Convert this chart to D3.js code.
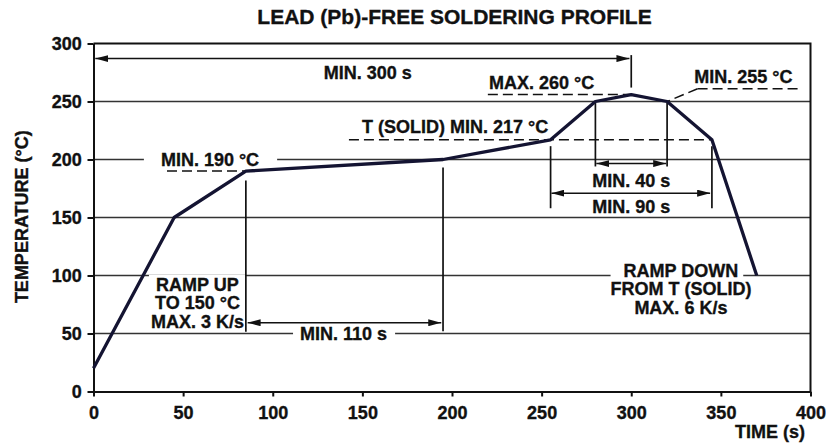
<!DOCTYPE html>
<html>
<head>
<meta charset="utf-8">
<script src="https://cdn.jsdelivr.net/npm/d3@7"></script>
<style>
  body { margin: 0; background: #fff; }
  svg text { font-family: "Liberation Sans", Arial, Helvetica, sans-serif; font-weight: bold; fill: #111; stroke: #111; stroke-width: 0.35px; }
</style>
</head>
<body>
<script>
let width = 826;
let height = 445;
let margin = { top: 43.5, right: 15.5, bottom: 53.5, left: 93.5 };

// soldering profile (time in s, temperature in °C)
const timeS = [0, 45, 85, 195, 255, 280, 300, 320, 345, 370];
const tempC = [20, 150, 190, 200, 217, 250, 256, 250, 217, 100];

const xTicks = [0, 50, 100, 150, 200, 250, 300, 350, 400];
const yTicks = [0, 50, 100, 150, 200, 250, 300];
const gridTemps = [50, 100, 150, 200, 250];

// dashed reference levels: [t start, t end, temperature]
const dashedLines = [
    [41, 85, 190],
    [142.5, 345, 217],
    [220, 300, 256],
    [337, 395, 261]
];
// leader from the MIN. 255 label down to the profile
const leaderLine = [[337, 261], [320, 250]];

// extension lines: [t, temp top, temp bottom]
const extLines = [
    [300, 290, 262],
    [85, 182, 51.5],
    [195, 193, 52],
    [280, 249, 194],
    [320, 249, 194],
    [255, 211.5, 158],
    [345, 211.5, 158]
];

// dimension arrows: [t start, t end, temperature]
const dimArrows = [
    [1, 299, 287],
    [86, 194, 59.3],
    [280.5, 319.5, 196.5],
    [255.5, 344, 171]
];

// labels: lines, centre time, baseline temperature of first line,
// white background (how many lines, left pad, right pad)
const labels = [
    { lines: ["MIN. 300 s"], t: 153, T: 269.4 },
    { lines: ["MAX. 260 °C"], t: 250, T: 260.6 },
    { lines: ["MIN. 255 °C"], t: 362.5, T: 265.6 },
    { lines: ["T (SOLID) MIN. 217 °C"], t: 201.7, T: 222.6 },
    { lines: ["MIN. 190 °C"], t: 65, T: 194.4, bg: [1, 17, 18] },
    { lines: ["MIN. 40 s"], t: 300, T: 176.6 },
    { lines: ["MIN. 90 s"], t: 300, T: 153.6 },
    { lines: ["MIN. 110 s"], t: 139.5, T: 44.4, bg: [1, 7, 8] },
    { lines: ["RAMP UP", "TO 150 °C", "MAX. 3 K/s"], t: 58, T: 86.9, bg: [3, 2, 1] },
    { lines: ["RAMP DOWN", "FROM T (SOLID)", "MAX. 6 K/s"], t: 327.7, T: 99, bg: [1, 13, 5] }
];

const lineStep = 18.5;

const svg = d3.select("body").append("svg")
    .attr("width", width)
    .attr("height", height);

const x = d3.scaleLinear([0, 400], [margin.left, width - margin.right]);
const y = d3.scaleLinear([0, 300], [height - margin.bottom, margin.top]);

svg.append("defs").append("marker")
    .attr("id", "arrow")
    .attr("viewBox", "0 0 13 7")
    .attr("refX", 13)
    .attr("refY", 3.5)
    .attr("markerWidth", 13)
    .attr("markerHeight", 7)
    .attr("markerUnits", "userSpaceOnUse")
    .attr("orient", "auto-start-reverse")
    .append("path")
    .attr("d", "M0,0L13,3.5L0,7Z")
    .attr("fill", "#111");

// title
svg.append("text")
    .attr("x", 454.5)
    .attr("y", 23.5)
    .attr("text-anchor", "middle")
    .attr("font-size", 21)
    .text("LEAD (Pb)-FREE SOLDERING PROFILE");

// grid
svg.append("g")
    .selectAll("line")
    .data(gridTemps)
    .join("line")
    .attr("x1", x(0))
    .attr("x2", x(400))
    .attr("y1", d => y(d))
    .attr("y2", d => y(d))
    .attr("stroke", "#333")
    .attr("stroke-width", 1.5);

// frame (top and right)
svg.append("path")
    .attr("d", `M${x(0)},${y(300)}H${x(400)}V${y(0)}`)
    .attr("fill", "none")
    .attr("stroke", "#111")
    .attr("stroke-width", 2);

// axes
svg.append("g")
    .attr("transform", `translate(0,${y(0)})`)
    .call(d3.axisBottom(x).tickValues(xTicks).tickSize(5).tickPadding(10).tickSizeOuter(0))
    .call(g => g.select(".domain").attr("stroke-width", 2).attr("stroke", "#111"))
    .call(g => g.selectAll(".tick line").attr("stroke-width", 2).attr("stroke", "#111"))
    .call(g => g.selectAll("text").attr("font-size", 18).attr("fill", "#111"));

svg.append("g")
    .attr("transform", `translate(${x(0)},0)`)
    .call(d3.axisLeft(y).tickValues(yTicks).tickSize(6).tickPadding(5.8).tickSizeOuter(0))
    .call(g => g.select(".domain").attr("stroke-width", 2).attr("stroke", "#111"))
    .call(g => g.selectAll(".tick line").attr("stroke-width", 2).attr("stroke", "#111"))
    .call(g => g.selectAll("text").attr("font-size", 18).attr("fill", "#111"));

svg.selectAll("g").attr("font-family", null);

// axis titles
svg.append("text")
    .attr("transform", "translate(28,216.7) rotate(-90)")
    .attr("text-anchor", "middle")
    .attr("font-size", 18)
    .text("TEMPERATURE (°C)");

svg.append("text")
    .attr("x", 805)
    .attr("y", 438)
    .attr("text-anchor", "end")
    .attr("font-size", 18)
    .text("TIME (s)");

// layers: white backgrounds hide the grid behind some labels
const bgLayer = svg.append("g");
const lineLayer = svg.append("g").attr("stroke", "#111").attr("stroke-width", 1.7).attr("fill", "none");
const profileLayer = svg.append("g");
const textLayer = svg.append("g");

labels.forEach(function (lab) {
    const texts = lab.lines.map((s, i) =>
        textLayer.append("text")
            .attr("x", x(lab.t))
            .attr("y", y(lab.T) + i * lineStep)
            .attr("text-anchor", "middle")
            .attr("font-size", 18)
            .text(s)
    );
    if (lab.bg) {
        const [n, padL, padR] = lab.bg;
        const boxes = texts.slice(0, n).map(t => t.node().getBBox());
        const x0 = d3.min(boxes, b => b.x) - padL;
        const x1 = d3.max(boxes, b => b.x + b.width) + padR;
        const y0 = d3.min(boxes, b => b.y);
        const y1 = d3.max(boxes, b => b.y + b.height);
        bgLayer.append("rect")
            .attr("x", x0)
            .attr("y", y0)
            .attr("width", x1 - x0)
            .attr("height", y1 - y0 - 0.5)
            .attr("fill", "#fff");
    }
});

// dashed levels
lineLayer.selectAll("line.dash")
    .data(dashedLines)
    .join("line")
    .attr("class", "dash")
    .attr("x1", d => x(d[0]))
    .attr("x2", d => x(d[1]))
    .attr("y1", d => y(d[2]))
    .attr("y2", d => y(d[2]))
    .attr("stroke-width", 1.5)
    .attr("stroke-dasharray", "10,5");

lineLayer.append("path")
    .attr("d", d3.line().x(d => x(d[0])).y(d => y(d[1]))(leaderLine))
    .attr("stroke-width", 1.5)
    .attr("stroke-dasharray", "10,5");

// extension lines
lineLayer.selectAll("line.ext")
    .data(extLines)
    .join("line")
    .attr("class", "ext")
    .attr("x1", d => x(d[0]))
    .attr("x2", d => x(d[0]))
    .attr("y1", d => y(d[1]))
    .attr("y2", d => y(d[2]));

// dimension arrows
lineLayer.selectAll("line.dim")
    .data(dimArrows)
    .join("line")
    .attr("class", "dim")
    .attr("x1", d => x(d[0]))
    .attr("x2", d => x(d[1]))
    .attr("y1", d => y(d[2]))
    .attr("y2", d => y(d[2]))
    .attr("stroke-width", 1.5)
    .attr("marker-start", "url(#arrow)")
    .attr("marker-end", "url(#arrow)");

// profile
profileLayer.append("path")
    .datum(d3.zip(timeS, tempC))
    .attr("d", d3.line().x(d => x(d[0])).y(d => y(d[1])))
    .attr("fill", "none")
    .attr("stroke", "#141432")
    .attr("stroke-width", 3.3)
    .attr("stroke-linejoin", "round");
</script>
</body>
</html>
